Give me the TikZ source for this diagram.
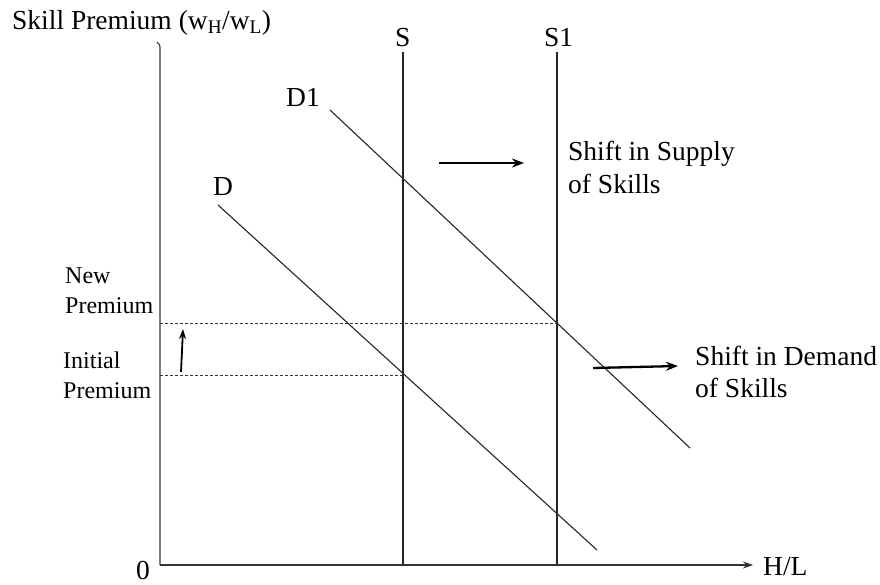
\documentclass[tikz,border=0pt]{standalone}
\usepackage{fontspec}
\setmainfont{Liberation Serif}
\usetikzlibrary{arrows.meta}
\begin{document}
\begin{tikzpicture}[x=1pt,y=-1pt,
  lbl/.style={anchor=base west,inner sep=0pt,font=\fontsize{27.5}{33}\selectfont},
  smalllbl/.style={anchor=base west,inner sep=0pt,font=\fontsize{24}{29}\selectfont},
  ax/.style={line width=1.1pt,draw=black!80},
  curve/.style={line width=1.1pt,draw=black!85},
  guide/.style={line width=0.9pt,draw=black!80,dash pattern=on 3pt off 2pt},
  shiftarrow/.style={line width=2.3pt,-{Stealth[length=12pt,width=9pt]}}]
\useasboundingbox[fill=white] (0,0) rectangle (880,584);
% axes
\coordinate (O) at (160,565);
\coordinate (Ytop) at (160,50);
\coordinate (Xend) at (753,565);
\draw[ax] (157,42) .. controls (160,45) .. (Ytop) -- (O);
\draw[ax,-{Stealth[length=10pt,width=7pt]}] (O) -- (Xend);
\node[lbl] (ylab) at (12,29) {Skill Premium (w\textsubscript{H}/w\textsubscript{L})};
\node[lbl] (xlab) at (763,575) {H/L};
\node[lbl] (zero) at (136,579) {0};
% supply curves
\coordinate (Stop) at (403,52);
\coordinate (Sbot) at (403,565);
\coordinate (S1top) at (557,52);
\coordinate (S1bot) at (557,565);
\draw[curve] (Stop) -- (Sbot);
\draw[curve] (S1top) -- (S1bot);
\node[lbl] (Slab) at (395,46) {S};
\node[lbl] (S1lab) at (544,46) {S1};
% demand curves
\coordinate (Dtop) at (218,205);
\coordinate (Dbot) at (597,550);
\coordinate (D1top) at (330,110);
\coordinate (D1bot) at (690,448);
\draw[curve] (Dtop) -- (Dbot);
\draw[curve] (D1top) -- (D1bot);
\node[lbl] (Dlab) at (213,195) {D};
\node[lbl] (D1lab) at (286,106) {D1};
% premium guides
\coordinate (newL) at (160,323);
\coordinate (newR) at (557,323);
\coordinate (iniL) at (160,375);
\coordinate (iniR) at (403,375);
\draw[guide] (newL) -- (newR);
\draw[guide] (iniL) -- (iniR);
\coordinate (upA) at (181,372);
\coordinate (upB) at (183,329);
\draw[line width=1.8pt,-{Stealth[length=10pt,width=7pt]}] (upA) -- (upB);
\node[smalllbl] (new1) at (65,283) {New};
\node[smalllbl] (new2) at (65,313) {Premium};
\node[smalllbl] (ini1) at (63,368) {Initial};
\node[smalllbl] (ini2) at (63,398) {Premium};
% shift labels
\coordinate (ssA) at (439,163);
\coordinate (ssB) at (524,163);
\draw[shiftarrow] (ssA) -- (ssB);
\node[lbl] (ss1) at (568,160) {Shift in Supply};
\node[lbl] (ss2) at (568,193) {of Skills};
\coordinate (sdA) at (593,368);
\coordinate (sdB) at (678,366);
\draw[shiftarrow] (sdA) -- (sdB);
\node[lbl] (sd1) at (695,365) {Shift in Demand};
\node[lbl] (sd2) at (695,397) {of Skills};
\end{tikzpicture}
\end{document}
